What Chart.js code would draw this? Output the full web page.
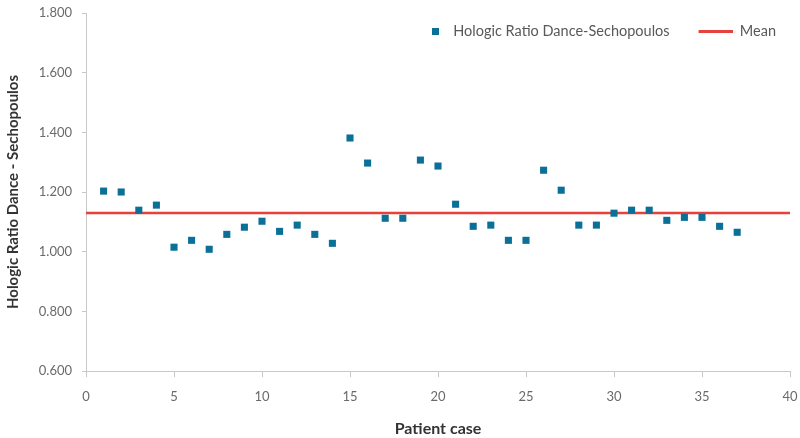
<!DOCTYPE html>
<html lang="en">
  <head>
    <meta charset="UTF-8" />
    <title>Hologic Ratio Dance - Sechopoulos</title>
    <script src="https://cdn.jsdelivr.net/npm/chart.js"></script>
    <style>
      html, body { margin: 0; padding: 0; background: #fff; }
      #wrap { width: 800px; height: 438px; }
    </style>
  </head>
  <body>
    <div id="wrap"><canvas id="scatterChart"></canvas></div>
    <script>
      // patient cases 1..37 and the ratio
      const patientCases = [1, 2, 3, 4, 5, 6, 7, 8, 9, 10, 11, 12, 13, 14, 15, 16, 17, 18, 19,
        20, 21, 22, 23, 24, 25, 26, 27, 28, 29, 30, 31, 32, 33, 34, 35, 36, 37];
      const ratios = [1.203, 1.200, 1.139, 1.156, 1.015, 1.038, 1.008, 1.058, 1.082, 1.102,
        1.068, 1.089, 1.058, 1.028, 1.381, 1.297, 1.112, 1.112, 1.307, 1.287,
        1.159, 1.085, 1.089, 1.038, 1.038, 1.273, 1.206, 1.089, 1.089, 1.129,
        1.139, 1.139, 1.105, 1.115, 1.115, 1.085, 1.065];
      const meanValue = 1.13;
      const meanRange = [0, 40];
      const yTicks = [0.6, 0.8, 1.0, 1.2, 1.4, 1.6, 1.8];

      const blue = "#0b7097";
      const red = "#e8413c";
      const iconW = 54;

      // legend marker images, drawn inside a fixed-width box
      function legendImage(x, w, h, color) {
        const c = document.createElement("canvas");
        c.width = iconW;
        c.height = h;
        const g = c.getContext("2d");
        g.fillStyle = color;
        g.fillRect(x, 0, w, h);
        return c;
      }
      const squareIcon = legendImage(40, 7, 7, blue);
      const lineIcon = legendImage(20, 34, 3, red);

      // legend sits over the plot: it takes no layout space, but keeps its box for drawing
      const overlayLegend = {
        id: "overlayLegend",
        beforeInit(chart) {
          const legend = chart.legend;
          const fit = legend.fit;
          legend.fit = function () {
            fit.call(this);
            this._realHeight = this.height;
            this.height = 0;
          };
        },
        afterLayout(chart) {
          const legend = chart.legend;
          legend.top = 15;
          legend.height = legend._realHeight;
          legend.bottom = legend.top + legend.height;
          legend.right = 785;
          legend.width = legend.right - legend.left;
        }
      };

      new Chart(document.getElementById("scatterChart"), {
        type: "scatter",
        data: {
          datasets: [
            {
              label: "Hologic Ratio Dance-Sechopoulos",
              data: patientCases.map((c, i) => ({ x: c, y: ratios[i] })),
              pointStyle: "rect",
              pointRadius: 5,
              pointHoverRadius: 5,
              backgroundColor: blue,
              borderColor: blue,
              borderWidth: 0
            },
            {
              label: "Mean",
              type: "line",
              data: meanRange.map(x => ({ x: x, y: meanValue })),
              borderColor: red,
              backgroundColor: red,
              borderWidth: 2.5,
              pointRadius: 0,
              fill: false
            }
          ]
        },
        plugins: [overlayLegend],
        options: {
          responsive: true,
          maintainAspectRatio: false,
          animation: false,
          layout: { padding: { top: 13, right: 10, left: 0, bottom: 0 } },
          plugins: {
            tooltip: { enabled: false },
            legend: {
              position: "top",
              align: "end",
              labels: {
                usePointStyle: true,
                pointStyleWidth: iconW,
                padding: 9,
                color: "#595959",
                font: { family: "Lato", size: 14.5 },
                generateLabels(chart) {
                  return chart.data.datasets.map((ds, i) => ({
                    text: ds.label,
                    pointStyle: i === 0 ? squareIcon : lineIcon,
                    fillStyle: ds.backgroundColor,
                    strokeStyle: ds.borderColor,
                    lineWidth: 0,
                    fontColor: "#595959",
                    datasetIndex: i
                  }));
                }
              }
            }
          },
          scales: {
            x: {
              type: "linear",
              min: 0,
              max: 40,
              afterFit(scale) {
                scale.height = 67;
                scale.paddingLeft = 0;
                scale.paddingRight = 0;
              },
              ticks: {
                stepSize: 5,
                color: "#6a6a6a",
                padding: 12,
                font: { family: "Lato", size: 13 }
              },
              grid: { display: true, drawOnChartArea: false, drawTicks: true, tickLength: 6, color: "#c8c8c8" },
              border: { display: true, color: "#c8c8c8", width: 1 },
              title: {
                display: true,
                text: "Patient case",
                color: "#333",
                padding: { top: 4, bottom: 0 },
                font: { family: "Lato", size: 16, weight: "bold" }
              }
            },
            y: {
              min: 0.6,
              max: 1.8,
              afterFit(scale) {
                scale.width = 86;
                scale.paddingTop = 0;
                scale.paddingBottom = 0;
              },
              afterBuildTicks(scale) { scale.ticks = yTicks.map(v => ({ value: v })); },
              ticks: {
                color: "#6a6a6a",
                padding: 10,
                font: { family: "Lato", size: 13 },
                callback: v => v.toFixed(3)
              },
              grid: { display: true, drawOnChartArea: false, drawTicks: true, tickLength: 4, color: "#c8c8c8" },
              border: { display: true, color: "#c8c8c8", width: 1 },
              title: {
                display: true,
                text: "Hologic Ratio Dance - Sechopoulos",
                color: "#333",
                padding: { top: 4, bottom: 4 },
                font: { family: "Lato", size: 15, weight: "bold" }
              }
            }
          }
        }
      });
    </script>
  </body>
</html>
